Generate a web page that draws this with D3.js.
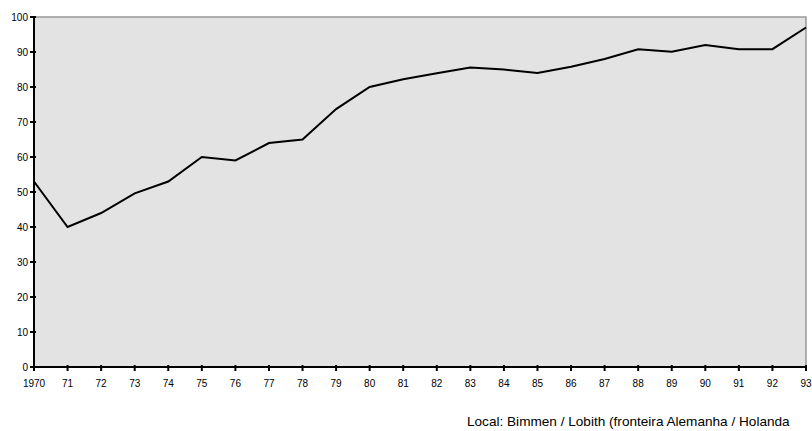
<!DOCTYPE html>
<html><head><meta charset="utf-8">
<script src="https://cdn.jsdelivr.net/npm/d3@7"></script>
<style>body{margin:0;background:#fff}svg{display:block}</style>
</head><body>
<svg id="c" width="812" height="431"></svg>
<script>
const years = ["1970","71","72","73","74","75","76","77","78","79","80","81","82","83","84","85","86","87","88","89","90","91","92","93"];
const values = [53,40,44,49.6,53,60,59,64,65,73.7,80,82.2,83.9,85.6,85,84,85.8,88,90.8,90.1,92,90.8,90.8,97];
const yTicks = [0,10,20,30,40,50,60,70,80,90,100];
const caption = "Local: Bimmen / Lobith (fronteira Alemanha / Holanda";

const svg = d3.select("#c");
const L=34, R=806, T=17, B=367;
const x = d3.scalePoint().domain(years).range([L,R]);
const y = d3.scaleLinear().domain([0,100]).range([B,T]);
const font = "Liberation Sans, Arial, sans-serif";

svg.append("rect").attr("x",L).attr("y",T).attr("width",R-L).attr("height",B-T)
  .attr("fill","#e3e3e3").attr("stroke","#999").attr("stroke-width",1.5);

svg.append("path").datum(values)
  .attr("fill","none").attr("stroke","#000").attr("stroke-width",2)
  .attr("d", d3.line().x((d,i)=>x(years[i])).y(d=>y(d)));

svg.append("line").attr("x1",L).attr("x2",L).attr("y1",T).attr("y2",B).attr("stroke","#000").attr("stroke-width",2);
svg.append("line").attr("x1",L).attr("x2",R).attr("y1",B).attr("y2",B).attr("stroke","#000").attr("stroke-width",2);

const yg = svg.append("g");
yTicks.forEach(t=>{
  yg.append("line").attr("x1",L-4).attr("x2",L+2).attr("y1",y(t)).attr("y2",y(t)).attr("stroke","#000").attr("stroke-width",2);
  yg.append("text").attr("x",L-6).attr("y",y(t)).attr("dy","0.35em").attr("text-anchor","end")
    .attr("font-family",font).attr("font-size",10).text(t);
});
const xg = svg.append("g");
years.forEach(yr=>{
  xg.append("line").attr("x1",x(yr)).attr("x2",x(yr)).attr("y1",B-2).attr("y2",B+4).attr("stroke","#000").attr("stroke-width",2);
  xg.append("text").attr("x",x(yr)).attr("y",B+20).attr("text-anchor","middle")
    .attr("font-family",font).attr("font-size",10).text(yr);
});
svg.append("text").attr("x",467).attr("y",426).attr("font-family",font).attr("font-size",13.6).text(caption);
</script>
</body></html>
